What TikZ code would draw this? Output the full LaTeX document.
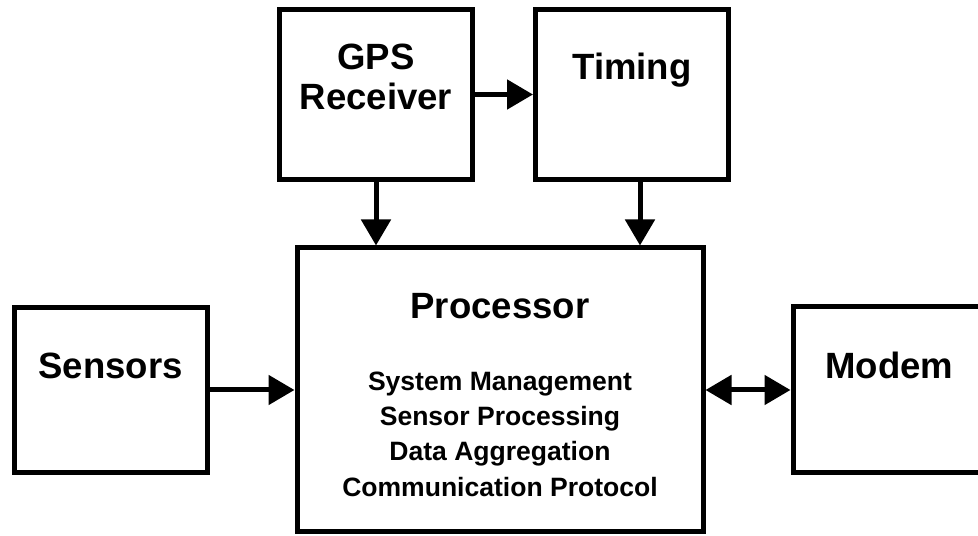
\documentclass[tikz,border=0pt]{standalone}
\usepackage{fontspec}
\setmainfont{Liberation Sans}
\usetikzlibrary{arrows.meta,positioning}
\tikzset{%
	block/.style    = {draw, rectangle, line width=1mm, minimum width=3.86cm, minimum height=3.4cm},
	boxtext/.style  = {font=\fontsize{20.8}{23.1}\selectfont\bfseries, align=center, inner sep=0pt},
	listtext/.style = {font=\fontsize{15.1}{20.2}\selectfont\bfseries, align=center, inner sep=0pt},
	arrow/.style    = {line width=1mm, ->},
}

\begin{document}
\begin{tikzpicture}[node distance=5.12cm, >={Triangle[length=5.2mm,width=5.8mm]}]
	\clip (0,0) rectangle (19.56,-10.72);
	\node [block] (gps) at (7.52,-1.89) {};
	\node [block] (timing) [right of=gps] {};
	\node [block, minimum width=8.12cm, minimum height=5.68cm] (proc) at (10,-7.8) {};
	\node [block, minimum height=3.3cm] (sens) [left of=proc, node distance=7.79cm] {};
	\node [block, minimum height=3.32cm] (modem) [right of=proc, node distance=7.79cm] {};
	
	% base anchor sits on the last line
	\node [boxtext, anchor=base] (gps-t) at ([yshift=-2.06cm]gps.north) {GPS\\Receiver};
	\node [boxtext, anchor=base] (timing-t) at ([yshift=-1.45cm]timing.north) {Timing};
	\node [boxtext, anchor=base] (proc-t) at ([yshift=-1.47cm]proc.north) {Processor};
	\node [listtext, anchor=base] (proc-l) at ([yshift=-2.13cm]proc.center) {System Management\\Sensor Processing\\Data Aggregation\\Communication Protocol};
	\node [boxtext, anchor=base] (sens-t) at ([yshift=-1.48cm]sens.north) {Sensors};
	\node [boxtext, anchor=base] (modem-t) at ([yshift=-1.48cm]modem.north) {Modem};
	
	\draw[arrow] (gps) -- (timing);
	\draw[arrow] (gps) -- (gps |- proc.north);
	\draw[arrow] ([xshift=1.6mm]timing.south) -- ([xshift=1.6mm]timing.south |- proc.north);
	\draw[arrow] (sens) -- (proc);
	\draw[arrow, <->] (proc) -- (modem);
\end{tikzpicture}
\end{document}
